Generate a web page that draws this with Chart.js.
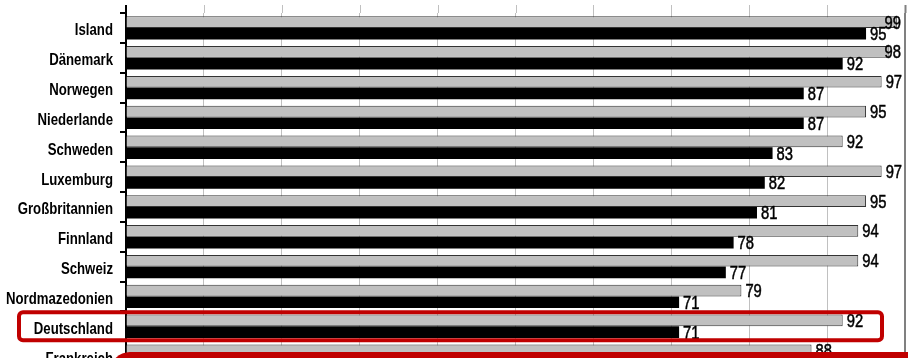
<!DOCTYPE html>
<html>
<head>
<meta charset="utf-8">
<script src="https://cdn.jsdelivr.net/npm/chart.js@4"></script>
<style>
  html, body { margin: 0; padding: 0; background: #fff; overflow: hidden; }
  #wrap { width: 908px; height: 358px; overflow: hidden; }
</style>
</head>
<body>
<div id="wrap"><canvas id="myChart" width="908" height="380"></canvas></div>
<script>
    // Länder (von oben nach unten)
    var laender = ["Island", "Dänemark", "Norwegen", "Niederlande", "Schweden", "Luxemburg",
        "Großbritannien", "Finnland", "Schweiz", "Nordmazedonien", "Deutschland", "Frankreich"];

    // graue Balken
    var werteGrau = [99, 98, 97, 95, 92, 97, 95, 94, 94, 79, 92, 88];
    // schwarze Balken
    var werteSchwarz = [95, 92, 87, 87, 83, 82, 81, 78, 77, 71, 71, null];

    var markiert = "Deutschland";
    var rot = "#c00000";

    // schmale Schrift: normale Schrift horizontal gestaucht
    function schmalerText(c, txt, x, y, stauchung, kontur) {
        c.save();
        c.translate(x, y);
        c.scale(stauchung, 1);
        if (kontur) {
            c.lineWidth = kontur;
            c.strokeText(txt, 0, 0);
        }
        c.fillText(txt, 0, 0);
        c.restore();
    }

    // Ländernamen selbst zeichnen
    var laenderNamen = {
        id: "laenderNamen",
        afterDraw: function (chart) {
            var c = chart.ctx;
            var ys = chart.scales.y;
            c.save();
            c.font = "bold 16.5px 'Liberation Sans', Arial, sans-serif";
            c.fillStyle = "#000";
            c.textAlign = "right";
            c.textBaseline = "middle";
            laender.forEach(function (name, i) {
                schmalerText(c, name, 113, ys.getPixelForValue(i) + 3, 0.8);
            });
            c.restore();
        }
    };

    // Zahlen neben den Balken, Rahmen um Deutschland, roter Kasten unten
    var extras = {
        id: "extras",
        afterDraw: function (chart) {
            var c = chart.ctx;
            var area = chart.chartArea;
            var xs = chart.scales.x;
            var ys = chart.scales.y;

            // Gitterlinien und Achse etwas über die Fläche hinaus
            c.save();
            xs.ticks.forEach(function (t) {
                var px = Math.round(xs.getPixelForValue(t.value)) + 0.5;
                c.strokeStyle = t.value === 100 ? "#808080" : "#c0c0c0";
                c.lineWidth = t.value === 100 ? 2 : 1;
                c.beginPath();
                c.moveTo(px, 5);
                c.lineTo(px, area.top);
                c.stroke();
            });
            c.strokeStyle = "#000";
            c.lineWidth = 2;
            c.beginPath();
            c.moveTo(area.left, 5);
            c.lineTo(area.left, area.top);
            c.stroke();
            c.restore();

            // Wertebeschriftung
            c.save();
            c.font = "18px 'Liberation Sans', Arial, sans-serif";
            c.fillStyle = "#000";
            c.strokeStyle = "#000";
            c.textBaseline = "middle";
            chart.data.datasets.forEach(function (ds, i) {
                var meta = chart.getDatasetMeta(i);
                meta.data.forEach(function (bar, j) {
                    var v = ds.data[j];
                    if (v === null) return;
                    var txt = String(v);
                    var w = c.measureText(txt).width * 0.82;
                    var x = bar.x + 4;
                    if (x + w > 908) x = 901 - w;
                    schmalerText(c, txt, x, bar.y + 1.5, 0.82, 0.5);
                });
            });
            c.restore();

            // Rahmen um die markierte Zeile
            var yc = ys.getPixelForValue(laender.indexOf(markiert));
            c.save();
            c.strokeStyle = rot;
            c.lineWidth = 4;
            c.beginPath();
            c.roundRect(19, yc - 14, 863, 28, 4);
            c.stroke();

            // roter Kasten am unteren Rand
            c.fillStyle = rot;
            c.beginPath();
            c.roundRect(110, 352, 900, 80, 20);
            c.fill();
            c.restore();
        }
    };

    var ctx = document.getElementById("myChart");

    var chart = new Chart(ctx, {
        type: "bar",
        data: {
            labels: laender,
            datasets: [{
                data: werteGrau,
                backgroundColor: "#c0c0c0",
                borderColor: "#333333",
                borderWidth: 1,
                categoryPercentage: 0.78,
                barPercentage: 1
            }, {
                data: werteSchwarz,
                backgroundColor: "#000000",
                borderWidth: 0,
                categoryPercentage: 0.78,
                barPercentage: 1
            }]
        },
        options: {
            indexAxis: "y",
            responsive: false,
            animation: false,
            devicePixelRatio: 1,
            layout: {
                padding: { top: 13, right: 3, left: 0, bottom: 9 }
            },
            plugins: {
                legend: { display: false },
                tooltip: { enabled: false }
            },
            scales: {
                x: {
                    min: 0,
                    max: 100,
                    ticks: { stepSize: 10, display: false },
                    grid: {
                        drawTicks: false,
                        color: function (c) { return c.tick && c.tick.value === 100 ? "#808080" : "#c0c0c0"; },
                        lineWidth: function (c) { return c.tick && c.tick.value === 100 ? 2 : 1; }
                    },
                    border: { display: false },
                    afterFit: function (s) { s.height = 0; }
                },
                y: {
                    grid: {
                        offset: true,
                        drawOnChartArea: false,
                        tickLength: 6,
                        color: "#000",
                        lineWidth: 2
                    },
                    border: { color: "#000", width: 2 },
                    ticks: { display: false },
                    afterFit: function (s) { s.width = 126; }
                }
            }
        },
        plugins: [extras, laenderNamen]
    });
</script>
</body>
</html>
